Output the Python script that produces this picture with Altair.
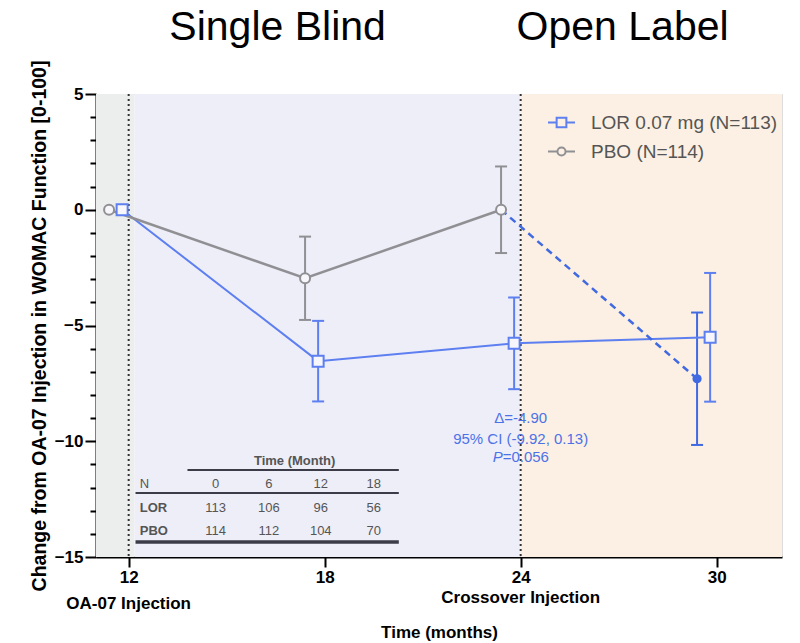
import altair as alt
import pandas as pd

# ---------------- data ----------------
series_names = ["LOR 0.07 mg (N=113)", "PBO (N=114)"]

lor_months = [12, 18, 24, 30]
lor_mean = [0.0, -6.54, -5.77, -5.51]
lor_half_ci = [0.0, 1.74, 1.98, 2.78]

pbo_months = [12, 18, 24]
pbo_mean = [0.0, -2.96, 0.0]
pbo_half_ci = [0.0, 1.80, 1.87]

# placebo group after crossover to LOR
cross_months = [30]
cross_mean = [-7.30]
cross_half_ci = [2.86]

tick_months = [12, 18, 24, 30]
phase_names = ["Single Blind", "Open Label"]
event_months = [12, 24]
event_names = ["OA-07 Injection", "Crossover Injection"]

table_months = ["0", "6", "12", "18"]
n_lor = [113, 106, 96, 56]
n_pbo = [114, 112, 104, 70]

stat_lines = ["\u0394=-4.90", "95% CI (-9.92, 0.13)"]
p_value = "=0.056"

# ---------------- styling / layout ----------------
FONT = "Liberation Sans"
LOR_C = "#5d7ff0"
PBO_C = "#909094"
CROSS_C = "#4169e1"
TXT_C = "#555555"
LOR_DODGE = -0.2
PBO_DODGE = -0.6

W, H = 686, 463
XS = alt.Scale(domain=[11, 32], nice=False, zero=False)
YS = alt.Scale(domain=[-15, 5], nice=False, zero=False)

X_AXIS = alt.Axis(
    values=tick_months, title="Time (months)", grid=False,
    domainColor="black", domainWidth=2, tickColor="black", tickWidth=2,
    tickSize=10, labelFont=FONT, labelFontSize=17, labelFontWeight="bold",
    labelColor="black", labelPadding=2, labelFlush=False,
    titleFont=FONT, titleFontSize=17, titleFontWeight="bold",
    titleColor="black", titleY=75, titleBaseline="middle",
)
Y_AXIS = alt.Axis(
    values=list(range(-15, 6)),
    labelExpr="datum.value % 5 == 0 ? datum.label : ''",
    title="Change from OA-07 Injection in WOMAC Function [0-100]",
    grid=False, domainColor="black", domainWidth=2, tickColor="black",
    tickWidth=2,
    tickSize={"condition": {"test": "datum.value % 5 == 0", "value": 11}, "value": 6},
    labelFont=FONT, labelFontSize=17, labelFontWeight="bold",
    labelColor="black", labelPadding=2, labelOverlap=False,
    titleFont=FONT, titleFontSize=19.5, titleFontWeight="bold",
    titleColor="black", titleX=-57, titleBaseline="middle",
)


def xq(field):
    return alt.X(field, type="quantitative", scale=XS, axis=X_AXIS)


def yq(field):
    return alt.Y(field, type="quantitative", scale=YS, axis=Y_AXIS)


def group(months, mean, half, dodge):
    return pd.DataFrame({
        "month": months,
        "x": [m + dodge for m in months],
        "mean": mean,
        "lo": [m - h for m, h in zip(mean, half)],
        "hi": [m + h for m, h in zip(mean, half)],
    })


lor = group(lor_months, lor_mean, lor_half_ci, LOR_DODGE)
pbo = group(pbo_months, pbo_mean, pbo_half_ci, PBO_DODGE)
cross = group(cross_months, cross_mean, cross_half_ci, PBO_DODGE)

# ---------------- background phases ----------------
phases = pd.DataFrame({
    "x0": [11, 12.18, 24],
    "x1": [12.18, 24, 32],
    "fill": ["#eceeed", "#eeeef9", "#fbf0e3"],
})
bg = alt.Chart(phases).mark_rect().encode(
    x=xq("x0"), x2="x1", y=alt.value(0), y2=alt.value(H),
    color=alt.Color("fill:N", scale=None)
)

markers = alt.Chart(pd.DataFrame({"m": event_months})).mark_rule(
    color="#333333", strokeWidth=2, strokeDash=[2, 3]
).encode(x=xq("m"))


# ---------------- error bars ----------------
def errorbars(df, color):
    d = df[df["hi"] > df["lo"]]
    base = alt.Chart(d)
    stem = base.mark_rule(color=color, strokeWidth=2).encode(
        x=xq("x"), y=yq("lo"), y2="hi"
    )
    cap_lo = base.mark_tick(orient="horizontal", color=color, size=12,
                            thickness=2, opacity=1).encode(x=xq("x"), y=yq("lo"))
    cap_hi = base.mark_tick(orient="horizontal", color=color, size=12,
                            thickness=2, opacity=1).encode(x=xq("x"), y=yq("hi"))
    return stem + cap_lo + cap_hi


# ---------------- series ----------------
lor_line = alt.Chart(lor).mark_line(color=LOR_C, strokeWidth=2).encode(
    x=xq("x"), y=yq("mean")
)
pbo_line = alt.Chart(pbo).mark_line(color=PBO_C, strokeWidth=2.5).encode(
    x=xq("x"), y=yq("mean")
)
link = pd.concat([pbo.tail(1), cross])
cross_line = alt.Chart(link).mark_line(
    color=CROSS_C, strokeWidth=2.5, strokeDash=[7, 5]
).encode(x=xq("x"), y=yq("mean"))

lor_pts = alt.Chart(lor).mark_point(
    shape="square", size=121, filled=True, fill="#f7f7fb", stroke=LOR_C,
    strokeWidth=2, opacity=1
).encode(x=xq("x"), y=yq("mean"))
pbo_pts = alt.Chart(pbo).mark_point(
    shape="circle", size=100, filled=True, fill="#f7f7fb", stroke=PBO_C,
    strokeWidth=2, opacity=1
).encode(x=xq("x"), y=yq("mean"))
cross_pts = alt.Chart(cross).mark_point(
    shape="circle", size=85, filled=True, color=CROSS_C, opacity=1
).encode(x=xq("x"), y=yq("mean"))

# ---------------- legend (scales only, no drawn data) ----------------
sq_path = "M-1,0L-0.36,0M0.36,0L1,0M-0.36,-0.36L0.36,-0.36L0.36,0.36L-0.36,0.36Z"
ci_path = ("M-1,0L-0.3,0M0.3,0L1,0M-0.3,0A0.3,0.3,0,1,0,0.3,0"
           "A0.3,0.3,0,1,0,-0.3,0Z")
leg = dict(
    title=None, orient="none", legendX=451, legendY=14, padding=0,
    symbolSize=729, symbolStrokeWidth=2, labelFont=FONT, labelFontSize=19,
    labelColor=TXT_C, labelOffset=15, rowPadding=4, labelLimit=0,
)
legend_layer = alt.Chart(pd.DataFrame({"series": series_names})).transform_filter(
    "false"
).mark_point(filled=False, strokeWidth=2, opacity=1).encode(
    color=alt.Color("series:N", scale=alt.Scale(domain=series_names,
                                                range=[LOR_C, PBO_C]),
                    legend=alt.Legend(**leg)),
    shape=alt.Shape("series:N", scale=alt.Scale(domain=series_names,
                                                range=[sq_path, ci_path]),
                    legend=alt.Legend(**leg)),
)

# ---------------- N-at-risk table ----------------
TBL_COL_X = [14.66, 16.29, 17.88, 19.5]
TBL_LABEL_X = 12.34
TBL_ROW_Y = {"head": -10.85, "N": -11.85, "LOR": -12.87, "PBO": -13.87}

cells = []
for cx, m, a, b in zip(TBL_COL_X, table_months, n_lor, n_pbo):
    cells.append({"x": cx, "y": TBL_ROW_Y["N"], "t": m})
    cells.append({"x": cx, "y": TBL_ROW_Y["LOR"], "t": str(a)})
    cells.append({"x": cx, "y": TBL_ROW_Y["PBO"], "t": str(b)})
cell_txt = alt.Chart(pd.DataFrame(cells)).mark_text(
    font=FONT, fontSize=13, color=TXT_C, baseline="middle"
).encode(x=xq("x"), y=yq("y"), text="t:N")

row_txt = alt.Chart(pd.DataFrame({
    "x": [TBL_LABEL_X] * 2, "y": [TBL_ROW_Y["LOR"], TBL_ROW_Y["PBO"]],
    "t": ["LOR", "PBO"]})).mark_text(
    font=FONT, fontSize=13, fontWeight="bold", color=TXT_C, align="left",
    baseline="middle"
).encode(x=xq("x"), y=yq("y"), text="t:N")
row_txt_n = alt.Chart(pd.DataFrame({
    "x": [TBL_LABEL_X], "y": [TBL_ROW_Y["N"]], "t": ["N"]})).mark_text(
    font=FONT, fontSize=13, color=TXT_C, align="left", baseline="middle"
).encode(x=xq("x"), y=yq("y"), text="t:N")

head_txt = alt.Chart(pd.DataFrame({
    "x": [(TBL_COL_X[0] + TBL_COL_X[-1]) / 2], "y": [TBL_ROW_Y["head"]],
    "t": ["Time (Month)"]})).mark_text(
    font=FONT, fontSize=13, fontWeight="bold", color=TXT_C, baseline="middle"
).encode(x=xq("x"), y=yq("y"), text="t:N")

tbl_rules = pd.DataFrame({
    "x0": [13.8, 12.21, 12.21],
    "x1": [20.27, 20.27, 20.27],
    "y": [-11.24, -12.24, -14.35],
    "w": [2.0, 2.0, 3.5],
})
tbl_lines = alt.Chart(tbl_rules).mark_rule(color="#3c3c48").encode(
    x=xq("x0"), x2="x1", y=yq("y"),
    strokeWidth=alt.StrokeWidth("w:Q", scale=None),
)

# ---------------- annotations ----------------
stat_df = pd.DataFrame({"x": [24, 24], "y": [-8.98, -9.89], "t": stat_lines})
stat_txt = alt.Chart(stat_df).mark_text(
    font=FONT, fontSize=15, color="#4d72e8", baseline="middle"
).encode(x=xq("x"), y=yq("y"), text="t:N")
p_df = pd.DataFrame({"x": [24], "y": [-10.7]})
p_italic = alt.Chart(p_df).mark_text(
    text="P", font=FONT, fontSize=15, fontStyle="italic", color="#4d72e8",
    align="right", baseline="middle", dx=-18
).encode(x=xq("x"), y=yq("y"))
p_rest = alt.Chart(p_df).mark_text(
    text=p_value, font=FONT, fontSize=15, color="#4d72e8",
    align="left", baseline="middle", dx=-18
).encode(x=xq("x"), y=yq("y"))

phase_txt = alt.Chart(pd.DataFrame({"x": [16.56, 27.12], "t": phase_names})).mark_text(
    font=FONT, fontSize=41, color="black", baseline="alphabetic"
).encode(x=xq("x"), y=alt.value(-54), text="t:N")

event_txt = alt.Chart(pd.DataFrame({
    "x": event_months, "t": event_names, "yy": [510, 504]})).mark_text(
    font=FONT, fontSize=17, fontWeight="bold", color="black", baseline="middle"
).encode(x=xq("x"), y=alt.Y("yy:Q", scale=None), text="t:N")

chart = alt.layer(
    bg, markers,
    errorbars(pbo, PBO_C), errorbars(lor, LOR_C), errorbars(cross, CROSS_C),
    lor_line, pbo_line, cross_line,
    pbo_pts, lor_pts, cross_pts,
    tbl_lines, cell_txt, row_txt, row_txt_n, head_txt,
    stat_txt, p_italic, p_rest,
    phase_txt, event_txt, legend_layer,
).properties(
    width=W, height=H,
    autosize=alt.AutoSizeParams(type="none"),
    padding={"left": 96, "top": 94, "right": 18, "bottom": 86},
).configure_view(
    stroke="#222222", strokeWidth=2.5
).configure(background="white")

chart.save("out.html", embed_options={"renderer": "svg", "actions": False})
